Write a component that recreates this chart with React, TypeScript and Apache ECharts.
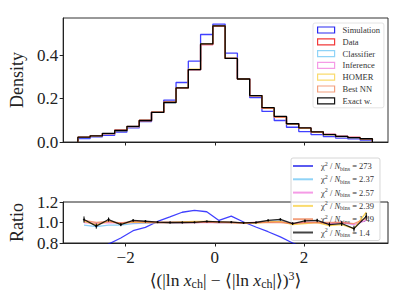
import React, { useEffect, useRef } from 'react';
import * as echarts from 'echarts';

const binEdges = [-3.07, -2.795, -2.52, -2.245, -1.97, -1.695, -1.42, -1.145, -0.87, -0.595, -0.32, -0.045, 0.23, 0.505, 0.78, 1.055, 1.33, 1.605, 1.88, 2.155, 2.43, 2.705, 2.98, 3.255, 3.53];

const simulation = [0.016, 0.024, 0.031, 0.046, 0.065, 0.094, 0.138, 0.193, 0.274, 0.372, 0.495, 0.543, 0.409, 0.292, 0.205, 0.141, 0.099, 0.068, 0.048, 0.034, 0.025, 0.018, 0.014, 0.009];
const dataHist = [0.021, 0.029, 0.039, 0.054, 0.071, 0.099, 0.137, 0.183, 0.249, 0.333, 0.448, 0.532, 0.385, 0.291, 0.214, 0.155, 0.115, 0.085, 0.064, 0.046, 0.035, 0.026, 0.021, 0.014];
const classifier = [0.020, 0.028, 0.038, 0.053, 0.070, 0.098, 0.137, 0.182, 0.249, 0.333, 0.450, 0.532, 0.385, 0.290, 0.214, 0.157, 0.117, 0.084, 0.064, 0.047, 0.035, 0.026, 0.020, 0.014];
const inference = [0.021, 0.029, 0.039, 0.054, 0.071, 0.099, 0.137, 0.183, 0.249, 0.333, 0.448, 0.532, 0.385, 0.290, 0.214, 0.156, 0.116, 0.084, 0.064, 0.046, 0.035, 0.026, 0.021, 0.014];
const homer = [0.021, 0.028, 0.039, 0.053, 0.071, 0.099, 0.137, 0.183, 0.250, 0.336, 0.452, 0.535, 0.385, 0.290, 0.213, 0.156, 0.116, 0.083, 0.063, 0.046, 0.034, 0.025, 0.020, 0.015];
const bestNN = [0.021, 0.029, 0.039, 0.054, 0.072, 0.099, 0.137, 0.183, 0.249, 0.333, 0.450, 0.532, 0.385, 0.290, 0.214, 0.155, 0.115, 0.084, 0.064, 0.046, 0.035, 0.026, 0.021, 0.014];
const exactW = [0.022, 0.028, 0.040, 0.053, 0.072, 0.099, 0.136, 0.182, 0.249, 0.333, 0.452, 0.535, 0.385, 0.290, 0.214, 0.158, 0.118, 0.084, 0.065, 0.047, 0.034, 0.026, 0.020, 0.015];

const ratioSimulation = [0.66, 0.72, 0.79, 0.849, 0.92, 0.952, 1.01, 1.054, 1.10, 1.118, 1.105, 1.02, 1.063, 1.005, 0.956, 0.91, 0.86, 0.80, 0.75, 0.73, 0.71, 0.70, 0.68, 0.66];
const ratioClassifier = [0.975, 0.96, 0.975, 0.975, 0.99, 0.995, 1.0, 0.995, 1.0, 1.0, 1.005, 1.0, 1.0, 0.995, 1.0, 1.01, 1.015, 0.99, 1.0, 1.02, 0.99, 1.0, 0.97, 1.02];
const ratioInference = [1.0, 0.99, 1.0, 0.995, 1.0, 1.0, 1.0, 1.0, 1.0, 1.0, 1.0, 1.0, 1.0, 0.995, 1.0, 1.005, 1.01, 0.99, 1.0, 1.0, 0.99, 1.0, 0.98, 1.02];
const ratioHomer = [1.01, 0.98, 1.01, 0.99, 1.005, 1.0, 1.0, 1.0, 1.005, 1.01, 1.01, 1.005, 1.0, 0.995, 0.995, 1.005, 1.01, 0.98, 0.99, 1.0, 0.97, 0.98, 0.94, 1.1];
const ratioBestNN = [1.02, 1.0, 1.01, 0.995, 1.01, 1.005, 1.0, 1.0, 1.0, 1.0, 1.005, 1.0, 1.0, 0.995, 1.0, 1.0, 1.0, 0.99, 1.0, 1.0, 1.0, 1.0, 0.99, 1.04];
const ratioExact = [1.029, 0.965, 1.029, 0.98, 1.02, 1.012, 1.004, 1.0, 1.0, 1.002, 1.01, 1.007, 1.003, 0.996, 1.0, 1.02, 1.03, 0.99, 1.015, 1.02, 0.98, 0.99, 0.94, 1.06];
const errExact = [0.03, 0.025, 0.02, 0.016, 0.012, 0.01, 0.008, 0.007, 0.006, 0.005, 0.005, 0.005, 0.005, 0.006, 0.007, 0.008, 0.01, 0.012, 0.014, 0.017, 0.02, 0.024, 0.028, 0.034];

const histNames = ['Simulation', 'Data', 'Classifier', 'Inference', 'HOMER', 'Best NN', 'Exact w.'];
const ratioNames = ['r_Simulation', 'r_Classifier', 'r_Inference', 'r_HOMER', 'r_BestNN', 'r_Exact'];
const chi2Labels = ['273', '2.37', '2.57', '2.39', '1.49', '1.4'];
const xTicks = [-2, 0, 2];
const densityTicks = [0, 0.2, 0.4];
const ratioTicks = [0.8, 1.0, 1.2];

const FONT = '"Liberation Serif", "DejaVu Serif", serif';

const histColors = ['rgba(0,0,255,0.75)', 'rgba(255,0,0,0.8)', 'rgba(100,190,245,0.75)', 'rgba(240,100,220,0.7)', 'rgba(250,200,40,0.8)', 'rgba(240,120,80,0.75)', '#000000'];
const legendPatchColors = ['#2a2af2', '#f23a3a', '#8fd3f7', '#f59be6', '#fadb6e', '#f3a07e', '#111111'];
const ratioColors = ['rgba(0,0,255,0.75)', 'rgba(100,190,245,0.75)', 'rgba(240,100,220,0.7)', 'rgba(250,200,40,0.8)', 'rgba(240,120,80,0.75)', 'rgba(0,0,0,0.85)'];
const ratioLegendColors = ['#5a5af0', '#8fd3f7', '#f59be6', '#fadb6e', '#f3a07e', '#444444'];

function stepData(h: number[]) {
  const pts: number[][] = [[binEdges[0], 0]];
  h.forEach((v, i) => pts.push([binEdges[i], v]));
  pts.push([binEdges[h.length], h[h.length - 1]]);
  pts.push([binEdges[h.length], 0]);
  return pts;
}

const centers = binEdges.slice(0, -1).map((e, i) => (e + binEdges[i + 1]) / 2);

const fmtMinus = (v: number) => (v < 0 ? '\u2212' + Math.abs(v) : String(v));

export default function App() {
  const ref = useRef<HTMLDivElement>(null);
  useEffect(() => {
    if (!ref.current) return;
    const chart = echarts.init(ref.current, undefined, { renderer: 'svg' });
    const hists = [simulation, dataHist, classifier, inference, homer, bestNN, exactW];
    const ratios = [ratioSimulation, ratioClassifier, ratioInference, ratioHomer, ratioBestNN, ratioExact];

    const axisCommon = {
      axisLine: { show: true, onZero: false, lineStyle: { color: '#222', width: 1 } },
      splitLine: { show: false },
    };

    const series: any[] = [];
    hists.forEach((h, i) => {
      series.push({
        type: 'line',
        name: histNames[i],
        xAxisIndex: 0,
        yAxisIndex: 0,
        step: 'end',
        symbol: 'none',
        data: stepData(h),
        lineStyle: { color: histColors[i], width: 1.3 },
        itemStyle: { color: histColors[i] },
        z: 2 + i,
      });
    });
    ratios.forEach((r, i) => {
      series.push({
        type: 'line',
        name: ratioNames[i],
        xAxisIndex: 1,
        yAxisIndex: 1,
        symbol: i === 5 ? 'circle' : 'none',
        symbolSize: 2,
        data: r.map((v, k) => [centers[k], v]),
        lineStyle: { color: ratioColors[i], width: 1.3 },
        itemStyle: { color: ratioColors[i] },
        clip: true,
        z: 2 + i,
      });
    });
    series.push({
      type: 'custom',
      name: 'err',
      xAxisIndex: 1,
      yAxisIndex: 1,
      data: ratioExact.map((v, k) => [centers[k], v - errExact[k], v + errExact[k]]),
      encode: { x: 0, y: [1, 2] },
      renderItem: (params: any, api: any) => {
        const x = api.value(0);
        const p1 = api.coord([x, api.value(1)]);
        const p2 = api.coord([x, api.value(2)]);
        return {
          type: 'group',
          children: [
            { type: 'line', shape: { x1: p1[0], y1: p1[1], x2: p2[0], y2: p2[1] }, style: { stroke: '#000', lineWidth: 1 } },
          ],
        };
      },
      z: 9,
    });

    const ratioRich = {
      t: { fontFamily: FONT, fontSize: 8.5, color: '#333' },
      i: { fontFamily: FONT, fontSize: 8.5, fontStyle: 'italic', color: '#333' },
      sp: { fontFamily: FONT, fontSize: 6, color: '#333', padding: [0, 0, 5, 0] },
      sb: { fontFamily: FONT, fontSize: 6, color: '#333', padding: [5, 0, 0, 0] },
    };

    chart.setOption({
      animation: false,
      backgroundColor: '#ffffff',
      grid: [
        { left: 63, top: 18, width: 325, height: 124, show: true, borderColor: '#333', borderWidth: 1, backgroundColor: 'transparent' },
        { left: 63, top: 202, width: 325, height: 41, show: true, borderColor: '#222', borderWidth: 1, backgroundColor: 'transparent' },
      ],
      xAxis: [
        {
          type: 'value', gridIndex: 0, min: -3.4, max: 3.88, ...axisCommon,
          axisTick: { show: true, inside: false, length: 3.5, lineStyle: { color: '#222' }, customValues: xTicks },
          axisLabel: { show: false, customValues: xTicks },
        },
        {
          type: 'value', gridIndex: 1, min: -3.4, max: 3.88, ...axisCommon,
          axisTick: { show: true, inside: false, length: 3.5, lineStyle: { color: '#222' }, customValues: xTicks },
          axisLabel: { show: true, customValues: xTicks, formatter: fmtMinus, fontFamily: FONT, fontSize: 17, color: '#222', margin: 6 },
          name: '{t|\u27E8(|ln }{i|x}{s|ch}{t|| \u2212 \u27E8|ln }{i|x}{s|ch}{t||\u27E9)}{p|3}{t|\u27E9}',
          nameLocation: 'middle',
          nameGap: 27,
          nameTextStyle: {
            rich: {
              t: { fontFamily: FONT, fontSize: 17.5, color: '#222' },
              i: { fontFamily: FONT, fontSize: 17.5, fontStyle: 'italic', color: '#222' },
              s: { fontFamily: FONT, fontSize: 12, color: '#222', padding: [7, 0, 0, 0] },
              p: { fontFamily: FONT, fontSize: 12, color: '#222', padding: [0, 0, 8, 0] },
            },
          },
        },
      ],
      yAxis: [
        {
          type: 'value', gridIndex: 0, min: 0, max: 0.571, ...axisCommon,
          axisTick: { show: true, inside: false, length: 3.5, lineStyle: { color: '#222' }, customValues: densityTicks },
          axisLabel: { show: true, customValues: densityTicks, formatter: (v: number) => v.toFixed(1), fontFamily: FONT, fontSize: 17, color: '#222', margin: 5 },
          name: 'Density', nameLocation: 'middle', nameRotate: 90, nameGap: 31,
          nameTextStyle: { fontFamily: FONT, fontSize: 18, color: '#222' },
        },
        {
          type: 'value', gridIndex: 1, min: 0.8, max: 1.2, ...axisCommon,
          axisTick: { show: true, inside: false, length: 3.5, lineStyle: { color: '#222' }, customValues: ratioTicks },
          axisLabel: { show: true, customValues: ratioTicks, formatter: (v: number) => v.toFixed(1), fontFamily: FONT, fontSize: 17, color: '#222', margin: 5 },
          name: 'Ratio', nameLocation: 'middle', nameRotate: 90, nameGap: 31,
          nameTextStyle: { fontFamily: FONT, fontSize: 18, color: '#222' },
        },
      ],
      legend: [
        {
          orient: 'vertical', left: 313, top: 23,
          padding: [2, 4, 2, 4],
          itemGap: 1.8, itemWidth: 17, itemHeight: 6, icon: 'rect',
          backgroundColor: 'rgba(255,255,255,0.85)', borderColor: '#dddddd', borderWidth: 0.8, borderRadius: 2,
          textStyle: { fontFamily: FONT, fontSize: 8.5, color: '#333', lineHeight: 10, padding: [0, 0, 0, 3] },
          data: histNames.map((n, i) => ({
            name: n,
            itemStyle: { color: 'rgba(0,0,0,0)', borderColor: legendPatchColors[i], borderWidth: 1.2 },
          })),
        },
        {
          orient: 'vertical', left: 291, top: 158,
          padding: [2, 6, 2, 2],
          itemGap: 1.3, itemWidth: 20, itemHeight: 2, icon: 'rect',
          backgroundColor: 'rgba(255,255,255,0.8)', borderColor: '#cccccc', borderWidth: 0.8, borderRadius: 2,
          textStyle: { fontFamily: FONT, fontSize: 8.5, color: '#333', lineHeight: 12, padding: [0, 0, 0, 3], rich: ratioRich },
          formatter: (name: string) => {
            const k = ratioNames.indexOf(name);
            return `{t|\u03C7}{sp|2}{t| / }{i|N}{sb|bins}{t| = ${chi2Labels[k]}}`;
          },
          data: ratioNames.map((n, i) => ({
            name: n,
            itemStyle: { color: ratioLegendColors[i], borderWidth: 0 },
          })),
        },
      ],
      series,
    });
    return () => chart.dispose();
  }, []);
  return <div ref={ref} style={{ position: 'fixed', left: 0, top: 0, width: 407, height: 305 }} />;
}
